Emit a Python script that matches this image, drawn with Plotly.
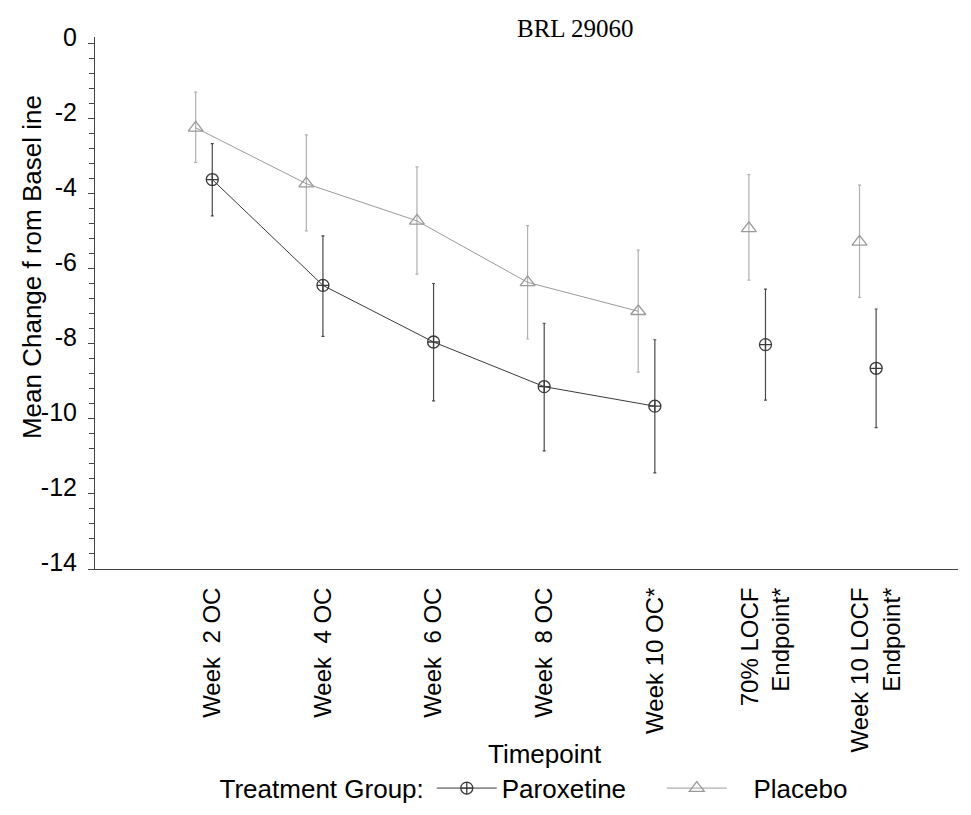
import plotly.graph_objects as go

# ---- data ----
timepoints = ["Week  2 OC", "Week  4 OC", "Week  6 OC", "Week  8 OC", "Week 10 OC*",
              "70% LOCF<br>Endpoint*", "Week 10 LOCF<br>Endpoint*"]
parox_mean = [-3.62, -6.44, -7.95, -9.14, -9.66, -8.02, -8.65]
parox_upper = [-2.66, -5.12, -6.39, -7.45, -7.89, -6.54, -7.07]
parox_lower = [-4.59, -7.80, -9.52, -10.85, -11.44, -9.50, -10.23]
placebo_mean = [-2.24, -3.73, -4.72, -6.36, -7.13, -4.92, -5.28]
placebo_upper = [-1.29, -2.43, -3.28, -4.85, -5.50, -3.49, -3.77]
placebo_lower = [-3.16, -4.99, -6.14, -7.87, -8.75, -6.30, -6.76]
y_tick_vals = [0, -2, -4, -6, -8, -10, -12, -14]
group_names = ["Paroxetine", "Placebo"]
n_connected = 5  # observed-case timepoints joined by lines

PAROX = "#3a3a3a"
PLAC = "#9a9a9a"
FONT = "Liberation Sans, Arial, sans-serif"

idx = list(range(len(timepoints)))
plac_shift = -0.15


def err(mean, up, lo):
    return ([u - m for u, m in zip(up, mean)], [m - l for m, l in zip(mean, lo)])


fig = go.Figure()


def add_group(name, legend_name, mean, up, lo, color, errcolor, symbol, size, shift):
    xs = [i + shift for i in idx]
    plus, minus = err(mean, up, lo)
    k = n_connected
    fig.add_trace(go.Scatter(
        x=xs[:k], y=mean[:k], name=legend_name, mode="lines+markers",
        line=dict(color=color, width=1),
        marker=dict(symbol=symbol, size=size, color=color, line=dict(color=color, width=1.3)),
        error_y=dict(type="data", symmetric=False, array=plus[:k], arrayminus=minus[:k],
                     color=errcolor, thickness=1.2, width=1.5),
        hovertext=name, showlegend=True))
    fig.add_trace(go.Scatter(
        x=xs[k:], y=mean[k:], name=name, mode="markers",
        marker=dict(symbol=symbol, size=size, color=color, line=dict(color=color, width=1.3)),
        error_y=dict(type="data", symmetric=False, array=plus[k:], arrayminus=minus[k:],
                     color=errcolor, thickness=1.2, width=1.5),
        showlegend=False))


add_group(group_names[0], group_names[0], parox_mean, parox_upper, parox_lower, PAROX, "#4a4a4a",
          "circle-cross-open", 12, 0.0)
add_group(group_names[1], "\u00a0\u00a0\u00a0" + group_names[1], placebo_mean, placebo_upper,
          placebo_lower, PLAC, "#b0b0b0", "triangle-up-open", 13, plac_shift)

fig.update_layout(
    width=971, height=815,
    margin=dict(l=87, r=21, t=29, b=238),
    paper_bgcolor="white", plot_bgcolor="white",
    font=dict(family=FONT, size=24, color="black"),
    showlegend=True,
    legend=dict(orientation="h", x=0.142, xanchor="left", y=-0.412, yanchor="middle",
                title=dict(text="Treatment Group:", font=dict(size=26), side="left"),
                font=dict(size=26), itemwidth=60, entrywidth=155, bgcolor="rgba(0,0,0,0)"),
    xaxis=dict(
        range=[-1.06, 6.74], tickmode="array", tickvals=idx, ticktext=timepoints,
        tickangle=-90, showgrid=False, zeroline=False, showline=True, linecolor="#444",
        linewidth=1, ticks="", ticklabelstandoff=8, tickfont=dict(size=24, family=FONT)),
    yaxis=dict(
        range=[-14, 0.18], tickmode="array", tickvals=y_tick_vals,
        ticktext=[str(v) for v in y_tick_vals],
        showgrid=False, zeroline=False, showline=True, linecolor="#444", linewidth=1,
        ticks="outside", ticklen=6, tickcolor="#444", tickfont=dict(size=25, family=FONT),
        ticklabelshift=-7, ticklabelstandoff=6,
        minor=dict(dtick=0.4, ticks="outside", ticklen=5, tickcolor="#444", showgrid=False)),
    annotations=[
        dict(text="BRL 29060", xref="paper", yref="paper", x=(567 - 87) / 863, y=1 + (29 - 20) / 548,
             xanchor="center", yanchor="middle", showarrow=False,
             font=dict(family="Liberation Serif, Times New Roman, serif", size=25)),
        dict(text="Mean Change f rom Basel ine", xref="paper", yref="paper",
             x=(24 - 87) / 863, y=(577 - 266) / 548, textangle=-90,
             xanchor="center", yanchor="middle", showarrow=False, font=dict(size=26)),
        dict(text="Timepoint", xref="paper", yref="paper",
             x=(537 - 87) / 863, y=(577 - 768) / 548,
             xanchor="center", yanchor="middle", showarrow=False, font=dict(size=26)),
    ],
)

fig.write_html("out.html")
